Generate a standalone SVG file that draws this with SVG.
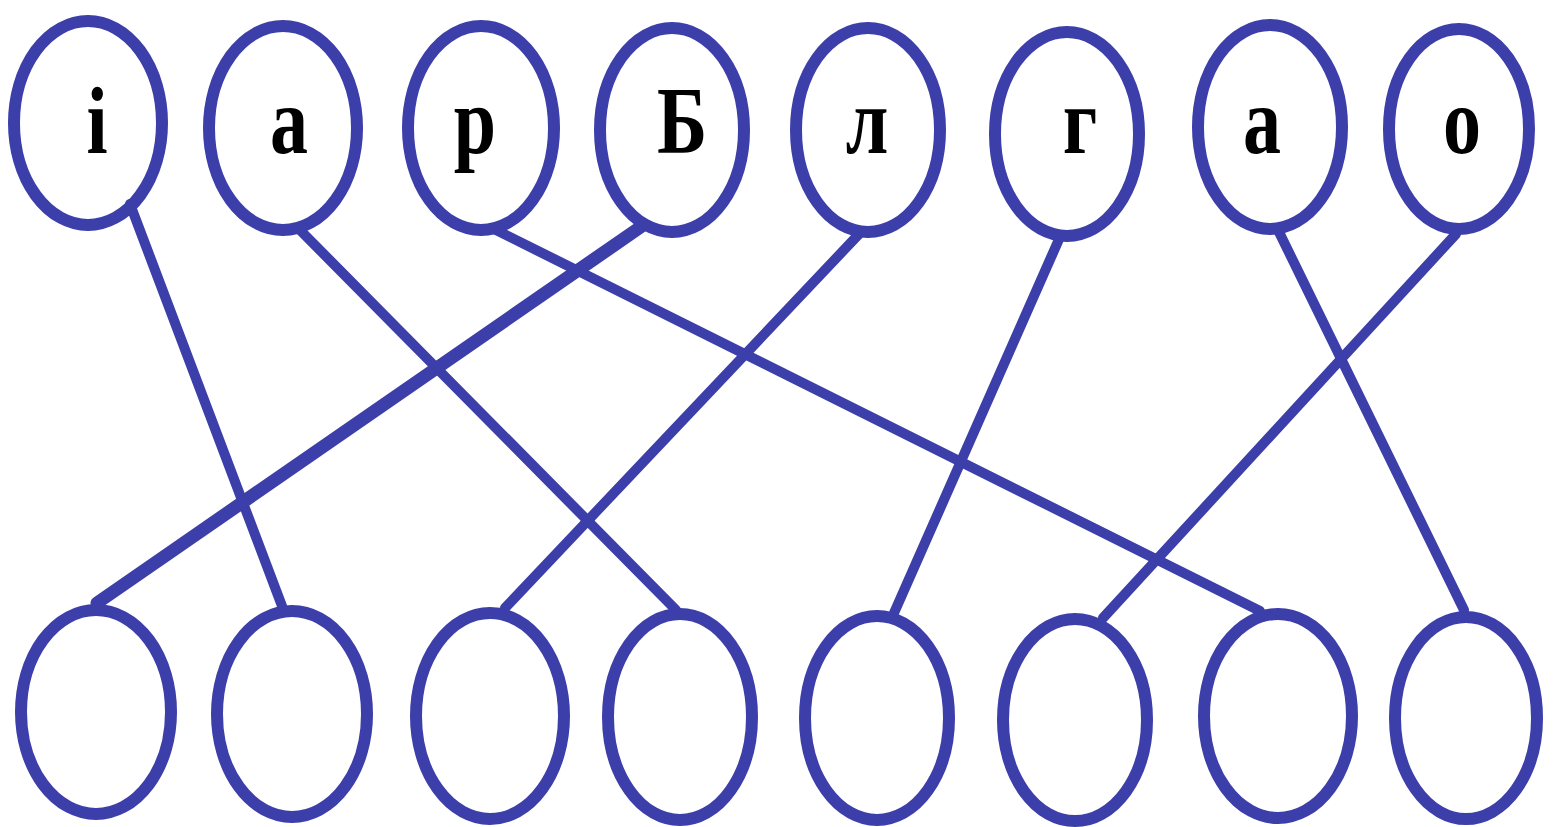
<svg xmlns="http://www.w3.org/2000/svg" width="1553" height="827" viewBox="0 0 1553 827">
<style>
.n{fill:none;stroke:#3c3fa9;stroke-width:12}
.c line{stroke:#3c3fa9;stroke-width:10;stroke-linecap:round}
.t{font-family:"Liberation Serif","Times New Roman",serif;font-weight:bold;font-size:95px;fill:#000;text-anchor:middle}
</style>
<rect width="1553" height="827" fill="#fff"/>
<g class="c" id="connectors">
<line x1="130" y1="204" x2="282" y2="606"/>
<line x1="298" y1="228" x2="676" y2="610"/>
<line x1="492" y1="228" x2="1260" y2="611"/>
<line x1="642" y1="226" x2="97" y2="603" style="stroke-width:13"/>
<line x1="860" y1="233" x2="505" y2="608"/>
<line x1="1060" y1="237" x2="894" y2="613"/>
<line x1="1278" y1="230" x2="1464" y2="610"/>
<line x1="1456" y1="234" x2="1103" y2="618"/>
</g>
<g id="t1"><ellipse class="n" cx="88" cy="123" rx="74" ry="102"/><text class="t" transform="translate(97,153) scale(0.8,1)">і</text></g>
<g id="t2"><ellipse class="n" cx="283" cy="128" rx="74" ry="102"/><text class="t" transform="translate(289,153) scale(0.8,1)">а</text></g>
<g id="t3"><ellipse class="n" cx="481" cy="128" rx="73" ry="102"/><text class="t" transform="translate(475,153) scale(0.8,1)">р</text></g>
<g id="t4"><ellipse class="n" cx="672" cy="130" rx="72" ry="102"/><text class="t" transform="translate(682,153) scale(0.8,1)">Б</text></g>
<g id="t5"><ellipse class="n" cx="868" cy="130" rx="72" ry="102"/><text class="t" transform="translate(867,153) scale(0.8,1)">л</text></g>
<g id="t6"><ellipse class="n" cx="1067" cy="134" rx="72" ry="102"/><text class="t" transform="translate(1080,153) scale(0.8,1)">г</text></g>
<g id="t7"><ellipse class="n" cx="1270" cy="127" rx="72" ry="102"/><text class="t" transform="translate(1262,153) scale(0.8,1)">а</text></g>
<g id="t8"><ellipse class="n" cx="1459" cy="129" rx="70" ry="100"/><text class="t" transform="translate(1462,153) scale(0.8,1)">о</text></g>
<g id="b1"><ellipse class="n" cx="96" cy="712" rx="75" ry="102"/></g>
<g id="b2"><ellipse class="n" cx="292" cy="714" rx="75" ry="103"/></g>
<g id="b3"><ellipse class="n" cx="490" cy="716" rx="74" ry="103"/></g>
<g id="b4"><ellipse class="n" cx="680" cy="717" rx="72" ry="103"/></g>
<g id="b5"><ellipse class="n" cx="877" cy="718" rx="72" ry="102"/></g>
<g id="b6"><ellipse class="n" cx="1075" cy="720" rx="72" ry="101"/></g>
<g id="b7"><ellipse class="n" cx="1278" cy="716" rx="74" ry="102"/></g>
<g id="b8"><ellipse class="n" cx="1466" cy="718" rx="71" ry="101"/></g>
</svg>
